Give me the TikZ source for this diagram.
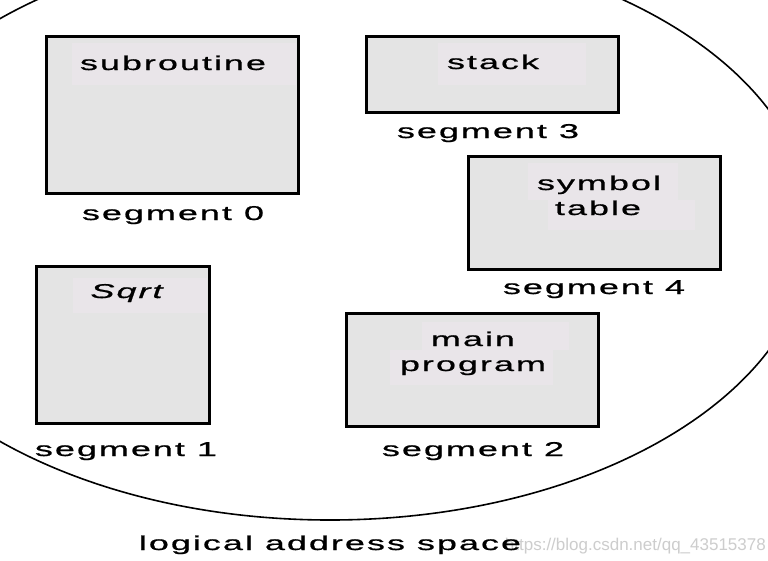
\documentclass[tikz,border=0pt]{standalone}
\usepackage{fontspec}
\setmainfont{Liberation Sans}
\newfontfamily\labfont{Liberation Sans}[FakeStretch=1.8,LetterSpace=10,FakeBold=0.8]
\definecolor{boxgray}{RGB}{228,228,228}
\definecolor{hlgray}{RGB}{233,229,233}
\definecolor{wmgray}{RGB}{205,205,205}
\begin{document}
\begin{tikzpicture}[x=1pt,y=-1pt,
  seg/.style={draw=black,line width=3pt,fill=boxgray,inner sep=0pt},
  hl/.style={fill=hlgray},
  lbl/.style={anchor=base,inner sep=0pt,font=\labfont\fontsize{20}{24}\selectfont},
  wm/.style={anchor=base east,inner sep=0pt,text=wmgray,font=\fontsize{17}{20}\selectfont},
]
\useasboundingbox (0,0) rectangle (768,560);
\fill[white] (0,0) rectangle (768,560);
\clip (0,0) rectangle (768,560);
% logical address space outline
\draw[line width=1.6pt] (330,230) ellipse [x radius=482, y radius=290];
% segments
\node[seg,minimum width=252pt,minimum height=157pt] (b0) at (172,114.5) {};
\node[seg,minimum width=252pt,minimum height=76pt]  (b3) at (492,74) {};
\node[seg,minimum width=252pt,minimum height=113pt] (b4) at (594,212.5) {};
\node[seg,minimum width=173pt,minimum height=157pt] (b1) at (122.5,344.5) {};
\node[seg,minimum width=252pt,minimum height=113pt] (b2) at (472,369.5) {};
% text highlights
\fill[hl] (72,43) rectangle (296,85);
\fill[hl] (438,43) rectangle (586,85);
\fill[hl] (528,163) rectangle (678,200);
\fill[hl] (548,200) rectangle (695,230);
\fill[hl] (73,278) rectangle (207,313);
\fill[hl] (422,322) rectangle (569,350);
\fill[hl] (390,350) rectangle (553,385);
% labels
\node[lbl] (t0) at (173,70) {subroutine};
\node[lbl] (s0) at (173,220) {segment 0};
\node[lbl] (t3) at (493,69) {stack};
\node[lbl] (s3) at (488,138) {segment 3};
\node[lbl] (t4a) at (599,190) {symbol};
\node[lbl] (t4b) at (598,215) {table};
\node[lbl] (s4) at (594,294) {segment 4};
\node[lbl] (t1) at (126.5,298) {\itshape Sqrt};
\node[lbl] (s1) at (126,456) {segment 1};
\node[lbl] (t2a) at (473,346) {main};
\node[lbl] (t2b) at (473,371) {program};
\node[lbl] (s2) at (473,456) {segment 2};
\node[wm] (wm) at (766,550) {https://blog.csdn.net/qq\_43515378};
\node[lbl] (cap) at (330,550) {logical address space};
\end{tikzpicture}
\end{document}
